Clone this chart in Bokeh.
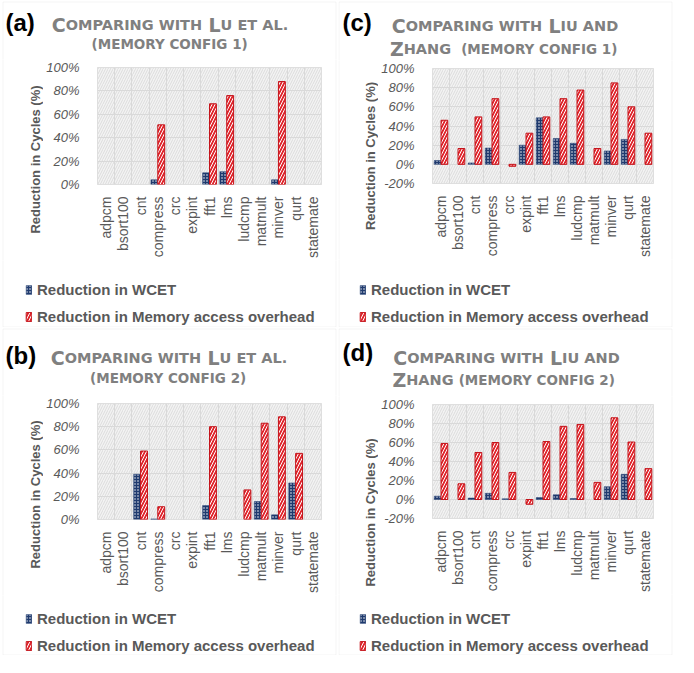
import math
from bokeh.plotting import figure
from bokeh.models import (FactorRange, Range1d, FixedTicker, Label, Legend, LegendItem,
                          BoxAnnotation, PrintfTickFormatter, ColumnDataSource)
from bokeh.transform import dodge
from bokeh.layouts import column, row
from bokeh.embed import file_html
from bokeh.resources import INLINE

# ---------------- data ----------------
categories = ["adpcm", "bsort100", "cnt", "compress", "crc", "expint", "fft1",
              "lms", "ludcmp", "matmult", "minver", "qurt", "statemate"]

wcet_a = [0, 0, 0, 4, 0, 0, 10, 11, 0, 0, 4, 0, 0]
mem_a = [0, 0, 0, 51, 0, 0, 69, 76, 0, 0, 88, 0, 0]

wcet_b = [0, 0, 39, 0.5, 0, 0, 12, 0, 0, 15.5, 4, 31.5, 0]
mem_b = [0, 0, 59, 11, 0, 0, 80, 0, 25.5, 83, 88.5, 57, 0]

wcet_c = [4, 0, 1.5, 17, 0, 20, 48.5, 27, 22, 0, 14, 26, 0]
mem_c = [46, 16.5, 49.5, 68.5, -2, 32.5, 49.5, 68.5, 77.5, 16.5, 85, 60, 32.5]

wcet_d = [3.5, 0, 1.5, 6.5, 0.7, 0, 2, 5, 1, 0, 13.5, 26.5, 0]
mem_d = [59, 16.5, 49.5, 60, 28.5, -5, 61, 77, 79, 18, 86, 60.5, 32.5]

ticks_pos = [0, 20, 40, 60, 80, 100]
ticks_neg = [-20, 0, 20, 40, 60, 80, 100]

legend_labels = ["Reduction in WCET", "Reduction in Memory access overhead"]
y_title = "Reduction in Cycles (%)"

# ---------------- styling ----------------
GRAY = "#595959"
TGRAY = "#808080"
GRID = "#d9d9d9"
BLUE = "#1f3a6e"
RED = "#e0252c"
RED_LINE = "#c4141b"

BLUE_STYLE = dict(fill_color=BLUE, line_color=BLUE, line_width=0.5,
                  hatch_pattern="dot", hatch_color="white", hatch_scale=3, hatch_weight=1)
RED_STYLE = dict(fill_color=RED, line_color=RED_LINE, line_width=1,
                 hatch_pattern="right_diagonal_line", hatch_color="white",
                 hatch_scale=6, hatch_weight=1)

DV = {'A': 0.774, 'C': 0.734, 'D': 0.830, 'E': 0.683, 'F': 0.683, 'G': 0.821,
      'H': 0.837, 'I': 0.372, 'L': 0.637, 'M': 0.995, 'N': 0.837, 'O': 0.850,
      'P': 0.733, 'R': 0.770, 'T': 0.682, 'U': 0.812, 'W': 1.103, 'Y': 0.724,
      'Z': 0.725, ' ': 0.348, '(': 0.457, ')': 0.457, '.': 0.380, '1': 0.696,
      '2': 0.696}

L, S, S2 = 19, 14.5, 13.5


def seg_width(txt, size):
    return sum(DV.get(ch, 0.7) for ch in txt) * size


def blank(w, h):
    f = figure(width=w, height=h, output_backend="svg", toolbar_location=None,
               x_axis_location=None, y_axis_location=None, min_border=0,
               x_range=Range1d(0, w), y_range=Range1d(0, h))
    f.xgrid.grid_line_color = None
    f.ygrid.grid_line_color = None
    f.outline_line_color = None
    f.background_fill_color = "white"
    f.border_fill_color = "white"
    return f


def edge(f, left, right, top, bottom):
    f.add_layout(BoxAnnotation(left=left, right=right, top=top, bottom=bottom,
                               left_units="screen", right_units="screen",
                               top_units="screen", bottom_units="screen",
                               fill_color=None, line_color=GRID, line_width=1))


def label(f, x, y, text, font, size, color, **kw):
    f.add_layout(Label(x=x, y=y, x_units="screen", y_units="screen", text=text,
                       text_font=font, text_font_style="bold",
                       text_font_size=f"{size}px", text_color=color, **kw))


def chart_fig(Wc, Hc, wcet, mem, ymin, yticks, bl, fw, bt, fh):
    p = figure(width=Wc, height=Hc, output_backend="svg", toolbar_location=None,
               x_range=FactorRange(factors=categories, range_padding=0, factor_padding=0),
               y_range=Range1d(ymin, 100), min_border_left=bl,
               min_border_right=Wc - bl - fw, min_border_top=bt,
               min_border_bottom=Hc - bt - fh)
    p.background_fill_color = "white"
    p.border_fill_color = "white"
    p.outline_line_color = GRID
    p.add_layout(BoxAnnotation(fill_color="#f3f3f3", fill_alpha=1,
                               hatch_pattern="right_diagonal_line", hatch_color="#dcdcdc",
                               hatch_scale=5, hatch_weight=1, line_color=None,
                               level="image"))
    wi = [i for i, v in enumerate(wcet) if v != 0]
    mi = [i for i, v in enumerate(mem) if v != 0]
    src_w = ColumnDataSource(dict(cat=[categories[i] for i in wi], val=[wcet[i] for i in wi]))
    src_m = ColumnDataSource(dict(cat=[categories[i] for i in mi], val=[mem[i] for i in mi]))
    p.vbar(x=dodge("cat", -0.2, range=p.x_range), top="val", width=0.4, source=src_w,
           **BLUE_STYLE)
    p.vbar(x=dodge("cat", 0.2, range=p.x_range), top="val", width=0.4, source=src_m,
           **RED_STYLE)
    p.xgrid.ticker = FixedTicker(ticks=list(range(len(categories) + 1)))
    p.xgrid.grid_line_color = GRID
    p.ygrid.grid_line_color = GRID
    p.yaxis.ticker = FixedTicker(ticks=yticks)
    p.yaxis.formatter = PrintfTickFormatter(format="%d%%")
    for ax in (p.xaxis[0], p.yaxis[0]):
        ax.axis_line_color = None
        ax.major_tick_line_color = None
        ax.minor_tick_line_color = None
        ax.major_label_text_color = GRAY
        ax.major_label_text_font = "Liberation Sans"
    p.yaxis.major_label_text_font_style = "italic"
    p.yaxis.major_label_text_font_size = "13px"
    p.yaxis.major_label_standoff = 12
    p.xaxis.major_label_text_font_size = "14px"
    p.xaxis.major_label_orientation = math.pi / 2
    p.xaxis.major_label_standoff = 6
    return p


def make_panel(wcet, mem, ymin, yticks, g):
    W = 338
    Ht, Hc, Hl, Wy, Wp = g["Ht"], g["Hc"], g["Hl"], g["Wy"], g["Wp"]
    bx0, bxr, bt, bb = g["border"]

    # title strip
    t = blank(W, Ht)
    edge(t, bx0, W - Wp + bxr, bt, -20)
    lx, ly = g["letter_pos"]
    label(t, lx, ly, g["letter"], "Liberation Sans", 24, "black", text_baseline="alphabetic")
    for segs, cx, y in g["lines"]:
        total = sum(seg_width(s_, z) for s_, z in segs)
        x = cx - total / 2.0
        for s_, z in segs:
            label(t, x, y, s_, "DejaVu Sans", z, TGRAY, text_baseline="alphabetic")
            x += seg_width(s_, z)

    # y-title strip
    ys = blank(Wy, Hc)
    edge(ys, bx0, 2000, 2000, -2000)
    yx, yy = g["ylab"]
    label(ys, yx, yy, y_title, "Liberation Sans", 13, GRAY, angle=math.pi / 2,
          text_align="center", text_baseline="middle")

    p = chart_fig(W - Wy - Wp, Hc, wcet, mem, ymin, yticks, g["bl"], g["fw"], 8, g["fh"])

    pad = blank(Wp, Hc)
    edge(pad, -2000, bxr, 2000, -2000)

    # legend strip
    lg = blank(W, Hl)
    edge(lg, bx0, W - Wp + bxr, 2000, bb)
    # zero-size proxy glyphs placed outside the canvas, only to feed the legend
    r1 = lg.vbar(x=[-1000], top=[0], width=0, **BLUE_STYLE)
    r2 = lg.vbar(x=[-1000], top=[0], width=0, **RED_STYLE)
    gx, gy = g["legend"]
    lg.add_layout(Legend(items=[LegendItem(label=legend_labels[0], renderers=[r1]),
                                LegendItem(label=legend_labels[1], renderers=[r2])],
                         location=(gx, gy), orientation="vertical",
                         label_text_font="Liberation Sans", label_text_font_style="bold",
                         label_text_font_size="15px", label_text_color=GRAY,
                         glyph_width=7, glyph_height=11, label_standoff=5, spacing=10,
                         padding=0, margin=0, border_line_color=None,
                         background_fill_alpha=0, label_height=16))
    return column(t, row(column(ys), column(p), column(pad)), lg)


geo_a = dict(Ht=59, Hc=201, Hl=67, Wy=43, Wp=11, bl=46, fw=232, fh=117,
             border=(2.5, 8.5, 57.5, 0.5),
             letter="(a)", letter_pos=(5, 37.5),
             lines=[([("C", L), ("OMPARING WITH ", S), ("L", L), ("U ET AL.", S)], 169.5, 35),
                    ([("(MEMORY CONFIG 1)", S2)], 169.5, 16)],
             ylab=(35, 101), legend=(25, 2.5))
geo_c = dict(Ht=60, Hc=199, Hl=68, Wy=40, Wp=12, bl=46, fw=229, fh=115,
             border=(0.5, 7.5, 58.5, 0.5),
             letter="(c)", letter_pos=(4, 38.5),
             lines=[([("C", L), ("OMPARING WITH ", S), ("L", L), ("IU AND", S)], 166.5, 35),
                    ([("Z", L), ("HANG  ", S), ("(MEMORY CONFIG 1)", S2)], 165.5, 12)],
             ylab=(32, 103.5), legend=(21, 2.5))
geo_b = dict(Ht=68, Hc=200, Hl=60, Wy=43, Wp=11, bl=46, fw=232, fh=116,
             border=(2.5, 8.5, 66.5, 0.5),
             letter="(b)", letter_pos=(5, 40),
             lines=[([("C", L), ("OMPARING WITH ", S), ("L", L), ("U ET AL.", S)], 168.5, 38),
                    ([("(MEMORY CONFIG 2)", S2)], 168, 18)],
             ylab=(35, 101), legend=(25, 1.5))
geo_d = dict(Ht=69, Hc=198, Hl=61, Wy=40, Wp=12, bl=46, fw=229, fh=114,
             border=(0.5, 7.5, 67.5, 0.5),
             letter="(d)", letter_pos=(4, 44),
             lines=[([("C", L), ("OMPARING WITH ", S), ("L", L), ("IU AND", S)], 168, 39),
                    ([("Z", L), ("HANG ", S), ("(MEMORY CONFIG 2)", S2)], 165.5, 17)],
             ylab=(32, 82), legend=(21, 1.5))

pa = make_panel(wcet_a, mem_a, 0, ticks_pos, geo_a)
pc = make_panel(wcet_c, mem_c, -20, ticks_neg, geo_c)
pb = make_panel(wcet_b, mem_b, 0, ticks_pos, geo_b)
pd = make_panel(wcet_d, mem_d, -20, ticks_neg, geo_d)

page = column(row(pa, pc), row(pb, pd))
open("out.html", "w").write(file_html(page, INLINE))
